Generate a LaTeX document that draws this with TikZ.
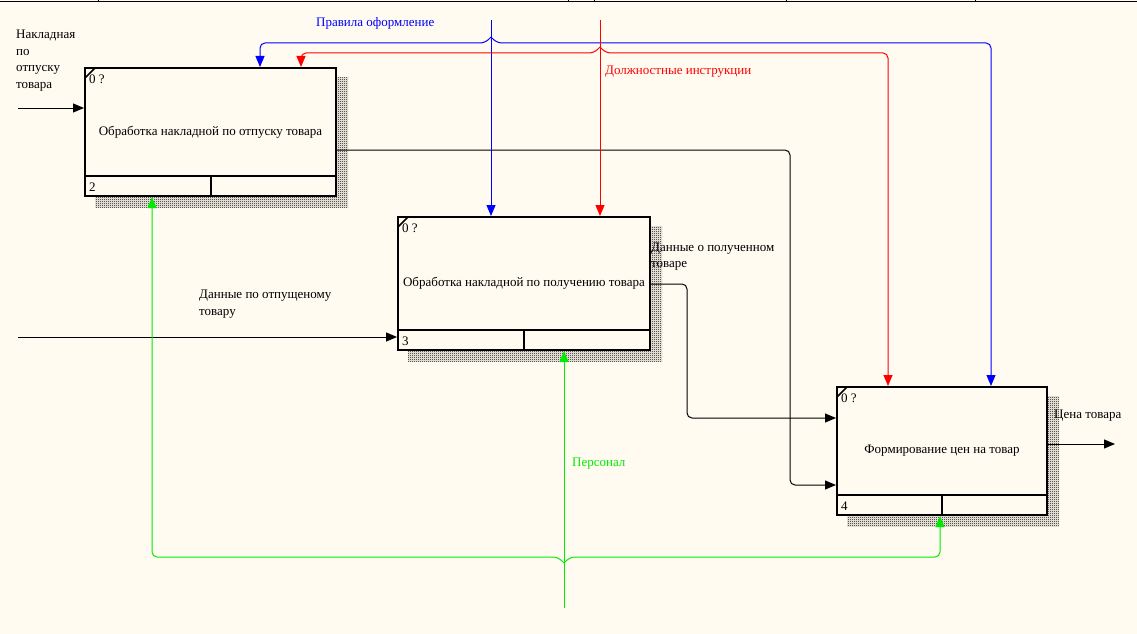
\documentclass[tikz,border=0pt]{standalone}
\usepackage{fontspec}
\setmainfont{Liberation Serif}
\usetikzlibrary{arrows.meta,patterns.meta,calc,backgrounds}
\definecolor{bg}{RGB}{255,251,240}
\definecolor{cblue}{RGB}{0,0,255}
\definecolor{cred}{RGB}{255,0,0}
\definecolor{cgreen}{RGB}{0,235,0}
\tikzdeclarepattern{
  name=dither, type=uncolored,
  bounding box={(0,0) and (2pt,2pt)},
  tile size={(2pt,2pt)},
  code={
    \pgfpathrectangle{\pgfpoint{0pt}{0pt}}{\pgfpoint{1pt}{1pt}}
    \pgfpathrectangle{\pgfpoint{1pt}{1pt}}{\pgfpoint{1pt}{1pt}}
    \pgfusepath{fill}
  }
}
\tikzset{
  fn/.style={draw, line width=2pt, fill=bg, inner sep=0pt, align=center,
    font=\fontsize{13}{15}\selectfont},
  shadowfill/.style={pattern=dither, pattern color=black},
  con/.style={line width=1pt, rounded corners=5pt},
  arr/.style={-{Triangle[length=11pt,width=9pt]}},
  lbl/.style={inner sep=0pt, align=left, font=\fontsize{13}{16.5}\selectfont},
  small/.style={inner sep=0pt, font=\fontsize{13}{15}\selectfont}
}
\begin{document}
\begin{tikzpicture}[x=1pt,y=-1pt]
\useasboundingbox (0,0) rectangle (1137,634);

% boxes
\node[fn, minimum width=251pt, minimum height=128pt] (b1) at (210.5,132) {Обработка накладной по отпуску товара};
\node[fn, minimum width=252pt, minimum height=133pt] (b2) at (524,283.5) {Обработка накладной по получению товара};
\node[fn, minimum width=210pt, minimum height=128pt] (b3) at (942,451) {Формирование цен на товар};

\begin{scope}[on background layer]
  \fill[bg] (0,0) rectangle (1137,634);
  \foreach \b in {b1,b2,b3} {
    \fill[shadowfill] ($(\b.north west)+(11,10)$) rectangle ($(\b.south east)+(11,10)$);
  }
\end{scope}

\foreach \b/\n in {b1/2,b2/3,b3/4} {
  \draw[line width=2pt] ($(\b.south west)+(0,-21)$) -- ($(\b.south east)+(0,-21)$);
  \draw[line width=2pt] ($(\b.south)+(0,-21)$) -- (\b.south);
  \draw[line width=1.5pt] ($(\b.north west)+(1,11)$) -- ($(\b.north west)+(11,1)$);
  \node[small, anchor=west] (\b-t) at ($(\b.north west)+(5,12)$) {0 ?};
  \node[small, anchor=west] (\b-n) at ($(\b.south west)+(5,-10)$) {\n};
}

% top border
\draw[line width=1.2pt] (0,1.5) -- (1137,1.5);
\foreach \x in {98,568,594,786,975} \draw[line width=1pt] (\x,0) -- (\x,2);

% inputs
\coordinate (i1) at (18,108);
\draw[con,arr] (i1) -- (i1 -| b1.west);
\coordinate (i2) at (18,337);
\draw[con,arr] (i2) -- (i2 -| b2.west);

% outputs
\coordinate (o1a) at (790,150);
\coordinate (o1b) at (790,485);
\draw[con,arr] (o1a -| b1.east) -- (o1a) -- (o1b) -- (o1b -| b3.west);
\coordinate (o2a) at (687,284);
\coordinate (o2b) at (687,418);
\draw[con,arr] (o2a -| b2.east) -- (o2a) -- (o2b) -- (o2b -| b3.west);
\coordinate (o3) at (1115,444);
\draw[con,arr] (o3 -| b3.east) -- (o3);

% blue control
\coordinate (bt) at (491,20);
\coordinate (bj) at (491,37);
\coordinate (bl) at (260,43);
\coordinate (br) at (991,43);
\draw[con,arr,cblue] (bt) -- (bt |- b2.north);
\draw[con,arr,cblue] (bj) -- ++(-6,6) -- (bl) -- (bl |- b1.north);
\draw[con,arr,cblue] (bj) -- ++(6,6) -- (br) -- (br |- b3.north);

% red control
\coordinate (rt) at (600,20);
\coordinate (rj) at (600,47);
\coordinate (rl) at (301,53);
\coordinate (rr) at (888,53);
\draw[con,arr,cred] (rt) -- (rt |- b2.north);
\draw[con,arr,cred] (rj) -- ++(-6,6) -- (rl) -- (rl |- b1.north);
\draw[con,arr,cred] (rj) -- ++(6,6) -- (rr) -- (rr |- b3.north);

% green mechanism
\coordinate (gt) at (564,608);
\coordinate (gj) at (564,563);
\coordinate (gl) at (152,557);
\coordinate (gr) at (940,557);
\draw[con,arr,cgreen] (gt) -- (gt |- b2.south);
\draw[con,arr,cgreen] (gj) -- ++(-6,-6) -- (gl) -- (gl |- b1.south);
\draw[con,arr,cgreen] (gj) -- ++(6,-6) -- (gr) -- (gr |- b3.south);

% labels
\node[lbl, anchor=west] (L1) at (16,60.5) {Накладная\\по\\отпуску\\товара};
\node[lbl, anchor=west] (L2) at (199,304) {Данные по отпущеному\\товару};
\node[lbl, anchor=west] (L3) at (651,256.5) {Данные о полученном\\товаре};
\node[lbl, anchor=west] (L4) at (1054,416) {Цена товара};
\node[lbl, anchor=west, text=cblue] (L5) at (316,23) {Правила оформление};
\node[lbl, anchor=west, text=cred] (L6) at (605,72) {Должностные инструкции};
\node[lbl, anchor=west, text=cgreen] (L7) at (572,464) {Персонал};
\end{tikzpicture}
\end{document}
